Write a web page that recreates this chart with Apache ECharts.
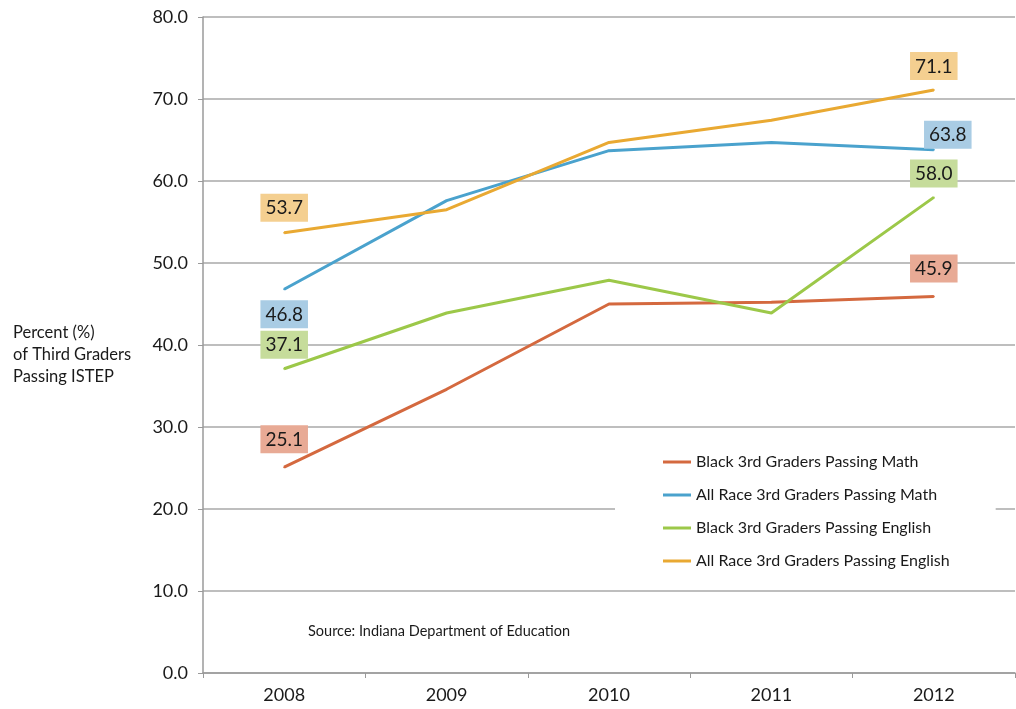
<!DOCTYPE html>
<html>
<head>
<meta charset="utf-8">
<script src="https://cdn.jsdelivr.net/npm/echarts@6/dist/echarts.min.js"></script>
<style>
html,body{margin:0;padding:0;background:#fff;}
#c{width:1016px;height:709px;}
</style>
</head>
<body>
<div id="c"></div>
<script>
const years = ['2008','2009','2010','2011','2012'];
const blackMath = [25.1, 34.6, 45.0, 45.2, 45.9];
const allMath = [46.8, 57.6, 63.7, 64.7, 63.8];
const blackEnglish = [37.1, 43.9, 47.9, 43.9, 58.0];
const allEnglish = [53.7, 56.5, 64.7, 67.4, 71.1];
const seriesNames = [
  'Black 3rd Graders Passing Math',
  'All Race 3rd Graders Passing Math',
  'Black 3rd Graders Passing English',
  'All Race 3rd Graders Passing English'
];
const yTicks = { min: 0, max: 80, interval: 10 };
const sourceText = 'Source: Indiana Department of Education';
const yTitle = 'Percent (%)\nof Third Graders\nPassing ISTEP';

const FONT = 'Lato, "Open Sans", sans-serif';
const styles = [
  { color: '#D4693F', label: '#E8AA95', first: { position: 'top', distance: 13, offset: [0,0] }, last: { position: 'top', distance: 13, offset: [0,0] } },
  { color: '#4AA2CD', label: '#A9CCE4', first: { position: 'bottom', distance: 10, offset: [0,0] }, last: { position: 'top', distance: 0, offset: [14,0] } },
  { color: '#9CC849', label: '#C6DC9B', first: { position: 'top', distance: 9, offset: [0,0] }, last: { position: 'top', distance: 9, offset: [0,0] } },
  { color: '#E9A932', label: '#F4CF90', first: { position: 'top', distance: 10, offset: [0,0] }, last: { position: 'top', distance: 9, offset: [0,0] } }
];
const allValues = [blackMath, allMath, blackEnglish, allEnglish];

function buildData(vals, st) {
  return vals.map((v, i) => {
    const isFirst = i === 0, isLast = i === vals.length - 1;
    if (!isFirst && !isLast) return { value: v };
    const p = isFirst ? st.first : st.last;
    return {
      value: v,
      label: {
        show: true,
        position: p.position,
        distance: p.distance,
        offset: p.offset,
        formatter: (o) => Number(o.value).toFixed(1),
        backgroundColor: st.label,
        color: '#1a1a1a',
        fontFamily: FONT,
        fontSize: 19,
        padding: [5, 5, 4, 5]
      }
    };
  });
}

const chart = echarts.init(document.getElementById('c'), null, { renderer: 'canvas' });
chart.setOption({
  animation: false,
  backgroundColor: '#fff',
  grid: { left: 203, right: 1, top: 17, bottom: 36, containLabel: false },
  xAxis: {
    type: 'category',
    data: years,
    boundaryGap: true,
    axisLine: { lineStyle: { color: '#9a9a9a', width: 1.5 } },
    axisTick: { show: true, length: 5, lineStyle: { color: '#9a9a9a' } },
    axisLabel: { color: '#1a1a1a', fontFamily: FONT, fontSize: 18, margin: 13 },
    splitLine: { show: false }
  },
  yAxis: {
    type: 'value',
    min: yTicks.min, max: yTicks.max, interval: yTicks.interval,
    axisLine: { show: true, lineStyle: { color: '#9a9a9a', width: 1.5 } },
    axisTick: { show: true, length: 5, inside: false, lineStyle: { color: '#9a9a9a' } },
    axisLabel: { color: '#1a1a1a', fontFamily: FONT, fontSize: 18, margin: 15, formatter: (v) => v.toFixed(1) },
    splitLine: { show: true, lineStyle: { color: '#a8a8a8', width: 1.5 } }
  },
  legend: {
    orient: 'vertical',
    left: 615,
    top: 440,
    padding: [14, 46, 12, 48],
    backgroundColor: '#ffffff',
    itemGap: 17,
    itemWidth: 28,
    itemHeight: 3,
    icon: 'rect',
    textStyle: { color: '#1a1a1a', fontFamily: FONT, fontSize: 16 },
    data: seriesNames
  },
  graphic: [
    { type: 'text', left: 13, top: 322, style: { text: yTitle, fill: '#1a1a1a', font: '16.5px ' + FONT, lineHeight: 22 } },
    { type: 'text', left: 308, top: 624, style: { text: sourceText, fill: '#1a1a1a', font: '14.5px ' + FONT } }
  ],
  series: allValues.map((vals, k) => ({
    name: seriesNames[k],
    type: 'line',
    data: buildData(vals, styles[k]),
    symbol: 'circle',
    symbolSize: 2,
    showSymbol: true,
    color: styles[k].color,
    lineStyle: { color: styles[k].color, width: 3 },
    itemStyle: { color: styles[k].color },
    emphasis: { disabled: true },
    label: { show: false },
    z: 3
  }))
});
</script>
</body>
</html>
